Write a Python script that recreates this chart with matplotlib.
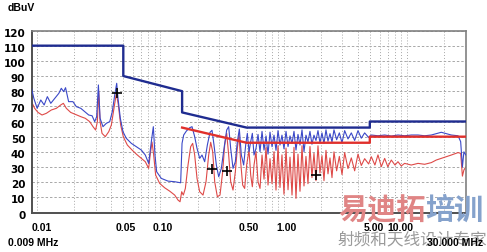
import matplotlib
matplotlib.use("Agg")
import matplotlib.pyplot as plt
import matplotlib.transforms as mtransforms
from matplotlib.ticker import NullFormatter

# Limit lines (dBuV)
qp_limit_freq = [0.009, 0.05, 0.05, 0.15, 0.15, 0.5, 5, 5, 30]
qp_limit_level = [110, 110, 90, 80, 66, 56, 56, 60, 60]
av_limit_freq = [0.15, 0.5, 5, 5, 30]
av_limit_level = [56, 46, 46, 50, 50]

# Peak trace (blue)
peak_freq = [
    0.009, 0.0094, 0.0100, 0.0107, 0.0114, 0.0121, 0.0129, 0.0139, 0.0150, 0.0157,
    0.0164, 0.0170, 0.0180, 0.0195, 0.0208, 0.0226, 0.0243, 0.0262, 0.0279, 0.0293,
    0.0304, 0.0314, 0.0324, 0.0342, 0.0364, 0.0388, 0.0407, 0.0426, 0.0442, 0.0453,
    0.0473, 0.0497, 0.0529, 0.0581, 0.0638, 0.0700, 0.0754, 0.0803, 0.0844, 0.0876,
    0.0904, 0.0932, 0.1017, 0.1153, 0.1306, 0.146,
    0.1498, 0.1545, 0.1624, 0.1728, 0.1805, 0.1897, 0.1982, 0.2083, 0.2175, 0.2287,
    0.2404, 0.2526, 0.2623, 0.2722, 0.2844, 0.2971, 0.3122, 0.3282, 0.3449, 0.3581,
    0.3717, 0.3883, 0.4055, 0.4209, 0.437, 0.4535, 0.4738, 0.4919, 0.5074,
    0.5236, 0.5402, 0.5571, 0.5748, 0.5967, 0.6194, 0.643, 0.6675, 0.6929, 0.7193,
    0.7467, 0.7749, 0.8046, 0.8352, 0.8667, 0.900, 0.934, 0.969, 1.006, 1.045,
    1.085, 1.126, 1.169, 1.213, 1.259, 1.307, 1.357, 1.409, 1.462, 1.517,
    1.575, 1.635, 1.697, 1.762, 1.829, 1.899, 1.971, 2.046, 2.124, 2.205,
    2.289, 2.376, 2.467, 2.56, 2.69, 2.83, 2.974, 3.126, 3.326, 3.54,
    3.767, 4.01, 4.266, 4.54, 4.892,
    5.143, 5.824, 6.6, 7.47, 8.46, 9.58, 10.85, 12.3, 13.93, 15.78,
    17.3, 19.0, 20.9, 22.9, 26.0, 27.3, 28.2, 29.0, 30.0,
]
peak_level = [
    82.0, 75.3, 68.7, 74.2, 70.9, 76.4, 72.0, 75.3, 78.6, 81.9,
    79.7, 82.3, 73.1, 73.1, 69.8, 68.7, 66.5, 64.3, 63.8, 59.9,
    63.2, 84.1, 62.1, 56.6, 58.8, 59.9, 66.5, 77.5, 85.2, 75.3,
    62.1, 53.3, 48.9, 45.6, 43.4, 41.2, 37.9, 32.4, 46.7, 56.6,
    37.9, 26.9, 22.5, 20.7, 20.3, 19.6,
    45.6, 51.1, 53.7, 55.9, 56.6, 50.0, 42.3, 35.7, 37.9, 33.5,
    44.5, 52.9, 54.2, 44.5, 31.3, 23.6, 29.1, 42.3, 54.4, 56.6,
    42.3, 29.1, 33.5, 46.7, 55.0, 37.9, 31.3, 44.5, 52.2,
    40.1, 46.7, 52.2, 37.9, 42.3, 51.5, 40.1, 53.5, 41.2, 50.5,
    38.5, 53.0, 43.4, 51.0, 41.0, 54.0, 44.5, 51.0, 42.0, 53.5,
    43.5, 50.5, 45.5, 53.5, 41.2, 51.5, 44.5, 54.5, 40.1, 51.0,
    46.5, 53.5, 45.0, 51.0, 47.5, 54.0, 46.0, 52.5, 45.5, 54.5,
    47.0, 52.0, 46.5, 54.5, 48.0, 52.5, 46.0, 54.0, 48.5, 52.5,
    47.5, 54.0, 49.0, 52.5, 49.5,
    51.1, 50.6, 51.1, 50.4, 51.1, 50.6, 51.1, 51.1, 50.6, 51.1,
    52.0, 52.9, 52.0, 51.1, 50.6, 46.7, 30.0, 40.0, 38.0,
]

# Average trace (red)
avg_freq = [
    0.009, 0.00954, 0.01016, 0.01095, 0.01187, 0.01303, 0.01432, 0.01552, 0.01632, 0.01725,
    0.01871, 0.0204, 0.0226, 0.0246, 0.0267, 0.0284, 0.0298, 0.0308, 0.0316, 0.0324,
    0.0336, 0.0357, 0.0381, 0.0400, 0.0420, 0.0439, 0.0456, 0.0476, 0.0500, 0.0539,
    0.0589, 0.0642, 0.0701, 0.0754, 0.0803, 0.0826, 0.0855, 0.0882, 0.0915, 0.0986,
    0.1083, 0.1189, 0.1306, 0.139, 0.1443, 0.1489,
    0.1535, 0.1594, 0.1675, 0.176, 0.1827, 0.1897, 0.1982, 0.2083, 0.2217, 0.2345,
    0.2464, 0.2559, 0.2656, 0.2757, 0.2898, 0.3045, 0.32, 0.3323, 0.3449, 0.3581,
    0.3717, 0.3883, 0.4055, 0.4209, 0.4343, 0.4479, 0.4649, 0.4826, 0.501,
    0.5236, 0.5402, 0.5571, 0.5748, 0.5967, 0.6194, 0.643, 0.6675, 0.6929, 0.7193,
    0.7467, 0.7749, 0.8046, 0.8352, 0.8667, 0.900, 0.934, 0.969, 1.006, 1.045,
    1.085, 1.126, 1.169, 1.213, 1.259, 1.307, 1.357, 1.409, 1.462, 1.517,
    1.575, 1.635, 1.697, 1.762, 1.829, 1.899, 1.971, 2.046, 2.124, 2.205,
    2.289, 2.376, 2.467, 2.56, 2.69, 2.83, 2.974, 3.126, 3.326, 3.54,
    3.767, 4.01, 4.266, 4.54, 4.892,
    5.143, 5.5, 5.824, 6.2, 6.6, 7.0, 7.47, 8.0, 8.46, 9.0,
    9.58, 10.85, 12.3, 13.93, 15.78, 17.3, 19.0, 20.9, 22.9, 26.0,
    27.3, 28.2, 29.0, 30.0,
]
avg_level = [
    73.1, 68.7, 66.0, 64.3, 65.4, 67.6, 68.7, 70.9, 72.0, 68.7,
    66.0, 64.7, 63.2, 62.1, 59.9, 56.6, 54.4, 59.9, 80.0, 59.9,
    52.2, 50.0, 53.3, 57.7, 68.7, 78.6, 70.9, 57.7, 50.0, 44.5,
    41.2, 38.3, 35.7, 33.5, 29.1, 37.9, 46.5, 37.9, 24.7, 19.2,
    16.3, 14.1, 11.5, 8.2, 7.1, 13.7,
    11.5, 15.9, 31.3, 43.4, 45.6, 37.9, 22.5, 13.7, 11.5, 20.3,
    37.9, 46.3, 40.1, 20.3, 10.4, 11.5, 26.9, 44.5, 52.2, 37.9,
    20.3, 14.8, 26.9, 42.3, 51.5, 33.5, 18.1, 15.9, 31.3,
    41.2, 24.7, 17.0, 31.3, 40.1, 20.3, 15.9, 37.9, 22.0, 43.0,
    18.1, 35.5, 19.0, 40.1, 14.8, 44.0, 16.5, 38.0, 12.0, 42.5,
    15.0, 36.5, 11.5, 43.0, 9.3, 38.5, 14.0, 44.0, 17.5, 37.0,
    19.0, 43.5, 23.0, 39.0, 21.0, 44.0, 26.0, 37.5, 21.0, 41.0,
    25.5, 36.0, 23.0, 40.0, 27.5, 37.0, 25.0, 39.5, 29.0, 36.0,
    27.5, 38.5, 31.0, 35.5, 32.0,
    36.8, 31.3, 38.0, 30.2, 35.7, 30.2, 34.6, 31.3, 33.5, 30.7,
    32.4, 31.3, 32.4, 31.8, 32.9, 34.6, 35.7, 36.8, 37.9, 39.5,
    39.0, 24.0, 28.0, 30.0,
]

# Final measurement markers
mark_freq = [0.0445, 0.26, 0.35, 1.83]
mark_level = [79, 29, 27.5, 25]

x_ticks = [0.01, 0.05, 0.1, 0.5, 1, 5, 10]
x_labels = ["0.01", "0.05", "0.10", "0.50", "1.00", "5.00", "10.00"]
x_label_shift = [4.5, 2, 2.5, 2.5, 3, 4, -7]  # px
y_ticks = list(range(0, 121, 10))
grid_freq = [m * d for d in (0.01, 0.1, 1, 10) for m in range(1, 10) if m * d <= 20]

fig = plt.figure(figsize=(4.87, 2.52), dpi=100)
ax = fig.add_axes([0.0647, 0.1567, 0.8916, 0.7222])
ax.set_xscale("log")

ax.plot(avg_freq, avg_level, color="#de4a48", lw=0.8, zorder=2)
ax.plot(peak_freq, peak_level, color="#3a48c8", lw=0.8, zorder=3)
ax.plot(qp_limit_freq, qp_limit_level, color="#1f2c90", lw=1.7, zorder=4)
ax.plot(av_limit_freq, av_limit_level, color="#e0302c", lw=1.7, zorder=4)
ax.plot(mark_freq, mark_level, ls="none", marker="+", ms=7, mew=1.2, color="black", zorder=5)

ax.set_xlim(0.009, 30)
ax.set_ylim(0, 120)

ax.set_xticks(grid_freq, minor=True)
ax.xaxis.set_minor_formatter(NullFormatter())
ax.set_xticks(x_ticks, x_labels)
ax.set_yticks(y_ticks)
ax.tick_params(which="both", length=0)
ax.tick_params(axis="x", pad=7.5)
ax.tick_params(axis="y", pad=4.5)
for lab in ax.get_xticklabels():
    lab.set_fontfamily("Liberation Sans")
    lab.set_fontweight("bold")
    lab.set_fontsize(7.5)
for lab, dx in zip(ax.get_xticklabels(), x_label_shift):
    lab.set_transform(lab.get_transform() + mtransforms.ScaledTranslation(dx / 100, 0, fig.dpi_scale_trans))
for lab in ax.get_yticklabels():
    lab.set_fontfamily("DejaVu Sans")
    lab.set_fontweight("bold")
    lab.set_fontsize(7.5)
    lab.set_transform(lab.get_transform() + mtransforms.ScaledTranslation(0, -2 / 100, fig.dpi_scale_trans))

ax.grid(True, which="both", axis="x", color="#a8a8a8", ls=(0, (1, 2)), lw=0.7)
ax.grid(True, which="major", axis="y", color="#a8a8a8", ls=(0, (2.5, 2)), lw=0.7)
ax.set_axisbelow(True)

for side in ("left", "bottom"):
    ax.spines[side].set_color("#505050")
    ax.spines[side].set_linewidth(1.4)
for side in ("top", "right"):
    ax.spines[side].set_color("#808080")
    ax.spines[side].set_linewidth(1.2)

fig.text(8 / 487, 1 - 8 / 252, "dBuV", family="Liberation Sans", weight="bold",
         fontsize=7.5, va="center", ha="left")
fig.text(8 / 487, 1 - 242.5 / 252, "0.009 MHz", family="Liberation Sans", weight="bold",
         fontsize=7.5, va="center", ha="left")

# watermark
fig.text(338 / 487, 1 - 210 / 252, "易迪拓", family=["Noto Sans CJK SC", "DejaVu Sans"],
         weight="bold", fontsize=21, color="#e08585", va="center", ha="left", zorder=6)
fig.text(425 / 487, 1 - 210 / 252, "培训", family=["Noto Sans CJK SC", "DejaVu Sans"],
         weight="bold", fontsize=21, color="#85a2cc", va="center", ha="left", zorder=6)
fig.text(338 / 487, 1 - 239.5 / 252, "射频和天线设计专家", family=["Noto Sans CJK SC", "DejaVu Sans"],
         fontsize=12, color="#9a9a9a", va="center", ha="left", zorder=6)

fig.text(483 / 487, 1 - 242.5 / 252, "30.000 MHz", family="Liberation Sans", weight="bold",
         fontsize=7.5, va="center", ha="right", zorder=7)

fig.savefig("out.png", dpi=100)
